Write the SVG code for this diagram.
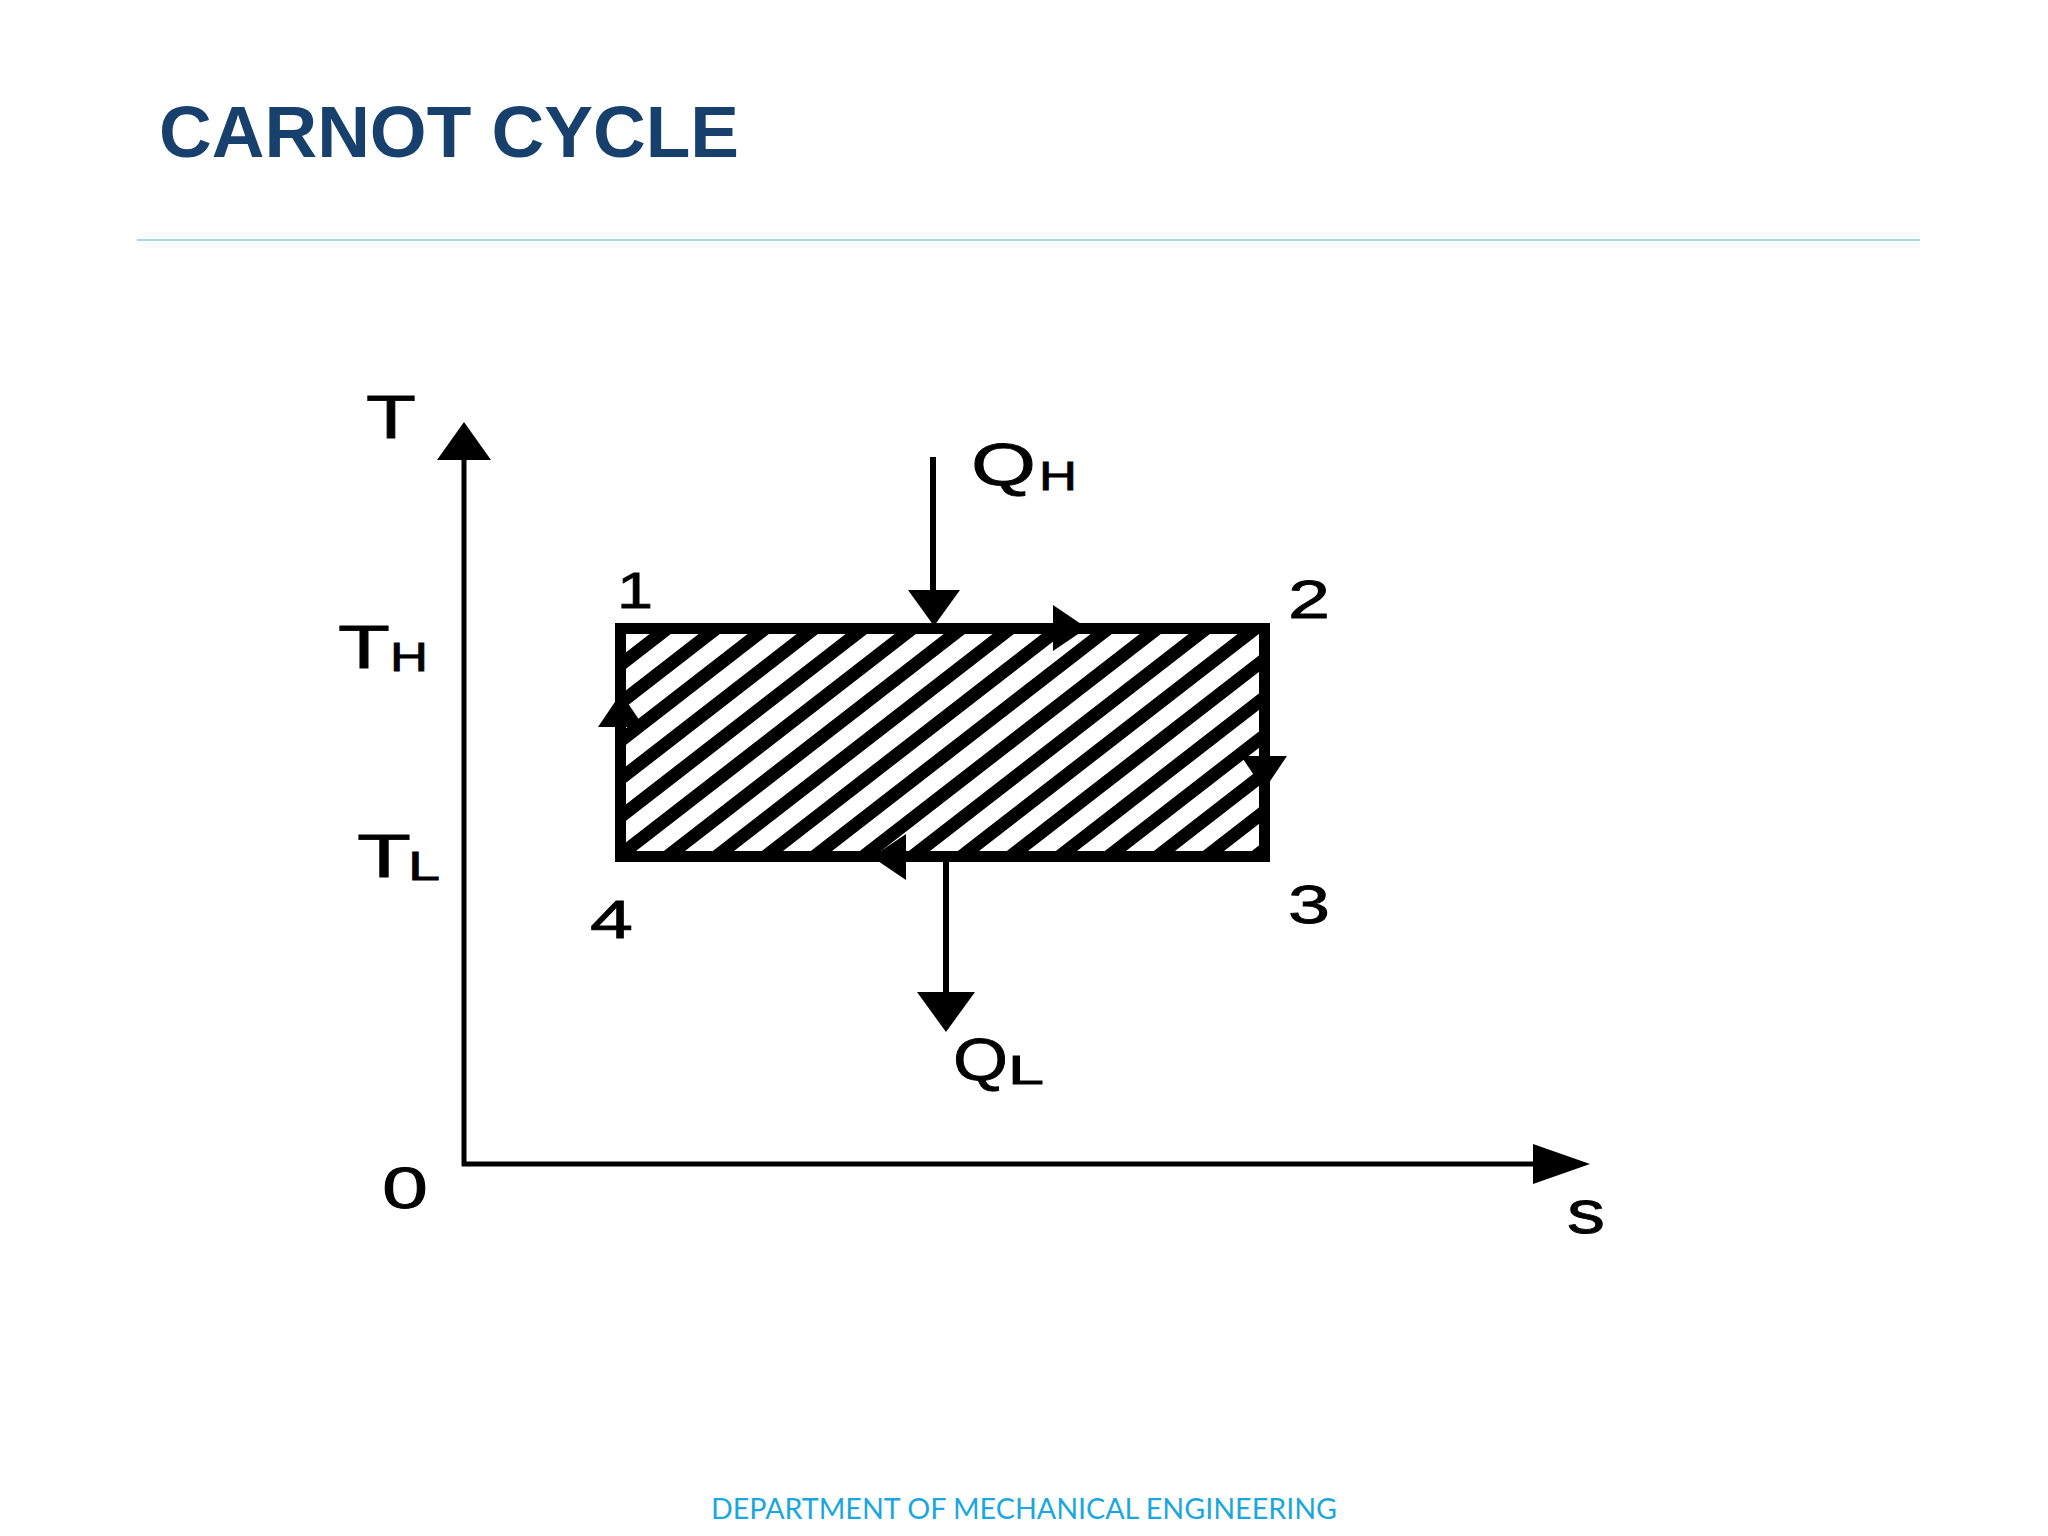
<svg xmlns="http://www.w3.org/2000/svg" width="2048" height="1536" viewBox="0 0 2048 1536">
  <style>
    .title { font-family: "Liberation Sans", Arial, sans-serif; font-weight: bold; font-size: 73px; fill: #17406D; }
    .footer { font-family: Lato, "Open Sans", sans-serif; font-size: 29px; fill: #1AA7DF; }
    .lbl { font-family: "Liberation Sans", Arial, sans-serif; fill: #000; stroke: #000; stroke-width: 0.8; }
    .axis { stroke: #000; stroke-width: 5; fill: none; }
    .flow { stroke: #000; stroke-width: 6; fill: none; }
    .head { fill: #000; }
  </style>
  <defs>
    <pattern id="hatch" patternUnits="userSpaceOnUse" x="628" y="621" width="49" height="38">
      <rect width="49" height="38" fill="#fff"/>
      <path d="M-98,76 L98,-76 M-98,114 L98,-38 M-98,152 L98,0" stroke="#000" stroke-width="13"/>
    </pattern>
    <path id="ah" d="M0,0 L-34,-23 L-34,23 Z"/>
  </defs>
  <rect width="2048" height="1536" fill="#fff"/>

  <g id="header">
    <text class="title" x="159" y="157">CARNOT CYCLE</text>
    <line x1="137" y1="240" x2="1920" y2="240" stroke="#86CDE8" stroke-width="1.5"/>
  </g>

  <g id="cycle">
    <rect x="620.5" y="628.5" width="644" height="228" fill="url(#hatch)" stroke="#000" stroke-width="11"/>
  </g>

  <g id="connectors">
    <line class="axis" x1="464" y1="455" x2="464" y2="1166"/>
    <line class="axis" x1="462" y1="1164" x2="1540" y2="1164"/>
    <path class="head" d="M464,422 L437,460 L491,460 Z"/>
    <path class="head" d="M1590,1164 L1533,1144 L1533,1184 Z"/>
    <line class="flow" x1="933" y1="457" x2="933" y2="595"/>
    <path class="head" d="M934,626 L908,590 L960,590 Z"/>
    <line class="flow" x1="946" y1="860" x2="946" y2="1000"/>
    <path class="head" d="M946,1032 L917,992 L975,992 Z"/>
    <use href="#ah" class="head" transform="translate(1087,628)"/>
    <use href="#ah" class="head" transform="translate(1264,790) rotate(90)"/>
    <use href="#ah" class="head" transform="translate(872,857) rotate(180)"/>
    <use href="#ah" class="head" transform="translate(621,693) rotate(-90)"/>
  </g>

  <g id="labels">
    <text class="lbl" x="366" y="438" font-size="61" textLength="50" lengthAdjust="spacingAndGlyphs">T</text>
    <g id="label-TH">
      <text class="lbl" x="338" y="668" font-size="61" textLength="52" lengthAdjust="spacingAndGlyphs">T</text>
      <text class="lbl" x="390" y="671" font-size="41" textLength="38" lengthAdjust="spacingAndGlyphs">H</text>
    </g>
    <g id="label-TL">
      <text class="lbl" x="357" y="877" font-size="61" textLength="54" lengthAdjust="spacingAndGlyphs">T</text>
      <text class="lbl" x="408" y="880" font-size="40" textLength="32" lengthAdjust="spacingAndGlyphs">L</text>
    </g>
    <text class="lbl" x="617" y="608" font-size="50" textLength="36" lengthAdjust="spacingAndGlyphs">1</text>
    <text class="lbl" x="1288" y="618" font-size="53" textLength="42" lengthAdjust="spacingAndGlyphs">2</text>
    <text class="lbl" x="1288" y="923" font-size="53" textLength="42" lengthAdjust="spacingAndGlyphs">3</text>
    <text class="lbl" x="590" y="938" font-size="53" textLength="43" lengthAdjust="spacingAndGlyphs">4</text>
    <text class="lbl" x="382" y="1208" font-size="57" textLength="46" lengthAdjust="spacingAndGlyphs">0</text>
    <text class="lbl" x="1567" y="1233" font-size="62" textLength="38" lengthAdjust="spacingAndGlyphs">s</text>
    <g id="label-QH">
      <text class="lbl" x="971" y="485" font-size="60" textLength="65" lengthAdjust="spacingAndGlyphs">Q</text>
      <text class="lbl" x="1039" y="490" font-size="41" textLength="38" lengthAdjust="spacingAndGlyphs">H</text>
    </g>
    <g id="label-QL">
      <text class="lbl" x="953" y="1080" font-size="60" textLength="55" lengthAdjust="spacingAndGlyphs">Q</text>
      <text class="lbl" x="1008" y="1084" font-size="40" textLength="36" lengthAdjust="spacingAndGlyphs">L</text>
    </g>
  </g>

  <g id="footer">
    <text class="footer" x="1024" y="1519" text-anchor="middle" textLength="626" lengthAdjust="spacingAndGlyphs">DEPARTMENT OF MECHANICAL ENGINEERING</text>
  </g>
</svg>
